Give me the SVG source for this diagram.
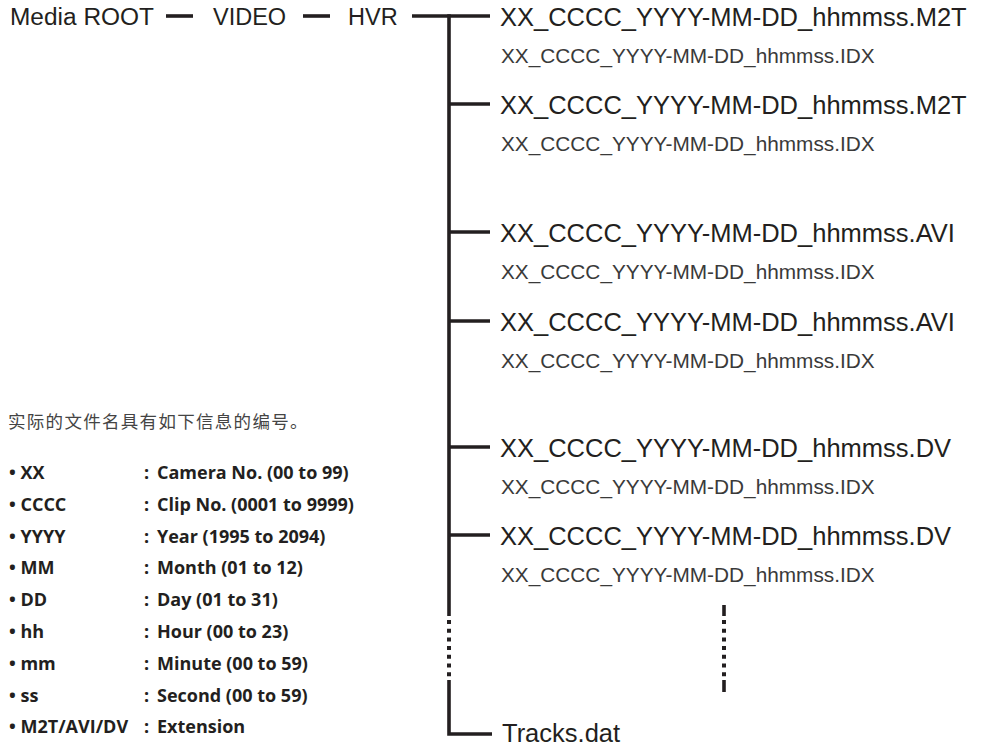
<svg xmlns="http://www.w3.org/2000/svg" width="994" height="748" viewBox="0 0 994 748">
<style>
.top{font-family:"Liberation Sans",Arial,sans-serif;font-size:23.5px;fill:#231f20}
.file{font-family:"Liberation Sans",Arial,sans-serif;font-size:25.5px;fill:#231f20}
.idx{font-family:"Liberation Sans",Arial,sans-serif;font-size:20.8px;fill:#3a3a3a}
.leg{font-family:"Open Sans","Noto Sans",sans-serif;font-size:18px;font-weight:bold;fill:#231f20}
.cn{font-family:"Noto Sans CJK SC",sans-serif;font-size:17.5px;letter-spacing:1.3px;fill:#444}
.ln{stroke:#231f20;stroke-width:3.6;fill:none}
.dot{stroke:#231f20;stroke-width:4;fill:none;stroke-dasharray:4 4.7}
</style>
<rect width="994" height="748" fill="#fff"/>
<g id="connectors">
<line class="ln" x1="166" y1="16" x2="193" y2="16"/>
<line class="ln" x1="303" y1="16" x2="330" y2="16"/>
<line class="ln" x1="412" y1="16" x2="490" y2="16"/>
<line class="ln" x1="449" y1="14.2" x2="449" y2="616"/>
<line class="dot" x1="449" y1="620" x2="449" y2="677"/>
<path class="ln" d="M449 680 V734 H492"/>
<line class="ln" x1="449" y1="104" x2="490" y2="104"/>
<line class="ln" x1="449" y1="232" x2="490" y2="232"/>
<line class="ln" x1="449" y1="321" x2="490" y2="321"/>
<line class="ln" x1="449" y1="447" x2="490" y2="447"/>
<line class="ln" x1="449" y1="535" x2="490" y2="535"/>
<line class="ln" x1="724" y1="605" x2="724" y2="616"/>
<line class="dot" x1="724" y1="620" x2="724" y2="677"/>
<line class="ln" x1="724" y1="680" x2="724" y2="692"/>
</g>
<g id="media-root"><text class="top" x="10" y="25" textLength="144" lengthAdjust="spacingAndGlyphs">Media ROOT</text></g>
<g id="video"><text class="top" x="213" y="25">VIDEO</text></g>
<g id="hvr"><text class="top" x="348" y="25">HVR</text></g>
<g id="m2t-1"><text class="file" x="500" y="26">XX_CCCC_YYYY-MM-DD_hhmmss.M2T</text><text class="idx" x="501" y="63">XX_CCCC_YYYY-MM-DD_hhmmss.IDX</text></g>
<g id="m2t-2"><text class="file" x="500" y="114">XX_CCCC_YYYY-MM-DD_hhmmss.M2T</text><text class="idx" x="501" y="151">XX_CCCC_YYYY-MM-DD_hhmmss.IDX</text></g>
<g id="avi-1"><text class="file" x="500" y="242">XX_CCCC_YYYY-MM-DD_hhmmss.AVI</text><text class="idx" x="501" y="278.5">XX_CCCC_YYYY-MM-DD_hhmmss.IDX</text></g>
<g id="avi-2"><text class="file" x="500" y="331">XX_CCCC_YYYY-MM-DD_hhmmss.AVI</text><text class="idx" x="501" y="367.5">XX_CCCC_YYYY-MM-DD_hhmmss.IDX</text></g>
<g id="dv-1"><text class="file" x="500" y="457">XX_CCCC_YYYY-MM-DD_hhmmss.DV</text><text class="idx" x="501" y="494">XX_CCCC_YYYY-MM-DD_hhmmss.IDX</text></g>
<g id="dv-2"><text class="file" x="500" y="545">XX_CCCC_YYYY-MM-DD_hhmmss.DV</text><text class="idx" x="501" y="582">XX_CCCC_YYYY-MM-DD_hhmmss.IDX</text></g>
<g id="tracks"><text class="file" x="502" y="742">Tracks.dat</text></g>
<g id="legend">
<text class="cn" x="8" y="428">实际的文件名具有如下信息的编号。</text>
<text class="leg" x="9" y="479">• XX</text><text class="leg" x="144" y="479">:</text><text class="leg" x="157" y="479">Camera No. (00 to 99)</text>
<text class="leg" x="9" y="511">• CCCC</text><text class="leg" x="144" y="511">:</text><text class="leg" x="157" y="511">Clip No. (0001 to 9999)</text>
<text class="leg" x="9" y="543">• YYYY</text><text class="leg" x="144" y="543">:</text><text class="leg" x="157" y="543">Year (1995 to 2094)</text>
<text class="leg" x="9" y="574">• MM</text><text class="leg" x="144" y="574">:</text><text class="leg" x="157" y="574">Month (01 to 12)</text>
<text class="leg" x="9" y="606">• DD</text><text class="leg" x="144" y="606">:</text><text class="leg" x="157" y="606">Day (01 to 31)</text>
<text class="leg" x="9" y="638">• hh</text><text class="leg" x="144" y="638">:</text><text class="leg" x="157" y="638">Hour (00 to 23)</text>
<text class="leg" x="9" y="670">• mm</text><text class="leg" x="144" y="670">:</text><text class="leg" x="157" y="670">Minute (00 to 59)</text>
<text class="leg" x="9" y="702">• ss</text><text class="leg" x="144" y="702">:</text><text class="leg" x="157" y="702">Second (00 to 59)</text>
<text class="leg" x="9" y="733">• M2T/AVI/DV</text><text class="leg" x="144" y="733">:</text><text class="leg" x="157" y="733">Extension</text>
</g>
</svg>
